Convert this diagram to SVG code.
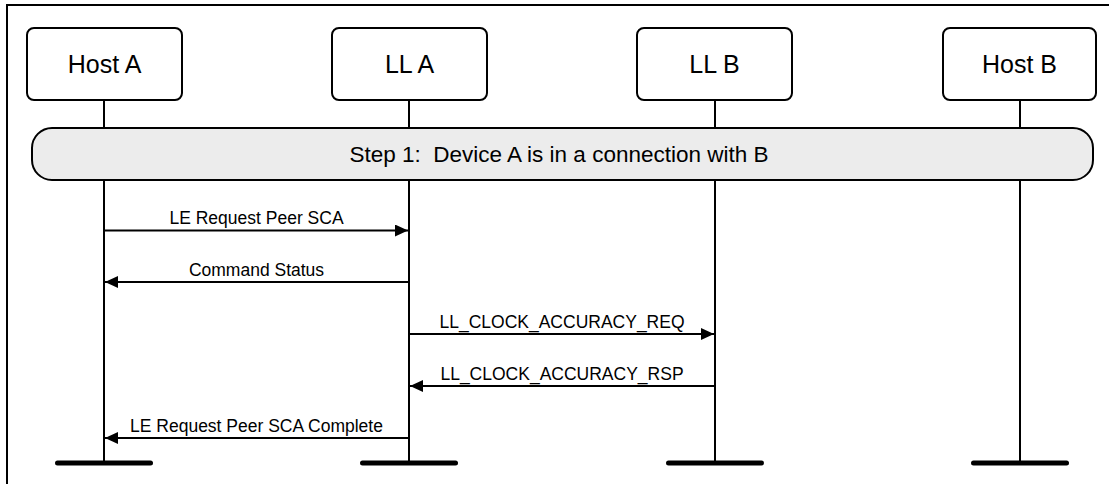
<svg xmlns="http://www.w3.org/2000/svg" width="1109" height="484" viewBox="0 0 1109 484">
<defs>
<style>
.box{fill:#fff;stroke:#000;stroke-width:2}
.life{stroke:#000;stroke-width:2}
.bar{stroke:#000;stroke-width:5;stroke-linecap:round}
.msg{stroke:#000;stroke-width:2;fill:none}
.lbl{font-family:"Liberation Sans",Arial,sans-serif;font-size:17.5px;fill:#000;text-anchor:middle}
.nt{font-family:"Liberation Sans",Arial,sans-serif;font-size:25px;fill:#000;text-anchor:middle}
.st{font-family:"Liberation Sans",Arial,sans-serif;font-size:22.5px;fill:#000;text-anchor:middle}
</style>
<marker id="ah" viewBox="0 0 13 12" refX="13" refY="6" markerWidth="13" markerHeight="12" markerUnits="userSpaceOnUse" orient="auto">
<path d="M0,0 L13,6 L0,12 Z" fill="#000"/>
</marker>
</defs>
<rect width="1109" height="484" fill="#fff"/>
<path d="M7,484 V5 H1109" fill="none" stroke="#000" stroke-width="2"/>
<g id="lifelines">
<line class="life" x1="104" y1="100" x2="104" y2="463"/>
<line class="life" x1="409" y1="100" x2="409" y2="463"/>
<line class="life" x1="715" y1="100" x2="715" y2="463"/>
<line class="life" x1="1020" y1="100" x2="1020" y2="463"/>
<line class="bar" x1="57.5" y1="463" x2="150.5" y2="463"/>
<line class="bar" x1="362.5" y1="463" x2="455.5" y2="463"/>
<line class="bar" x1="668.5" y1="463" x2="761.5" y2="463"/>
<line class="bar" x1="973.5" y1="463" x2="1066.5" y2="463"/>
</g>
<g id="host-a"><rect class="box" x="27" y="28" width="155" height="72" rx="7"/><text class="nt" x="104.5" y="72.5">Host A</text></g>
<g id="ll-a"><rect class="box" x="332" y="28" width="155" height="72" rx="7"/><text class="nt" x="409.5" y="72.5">LL A</text></g>
<g id="ll-b"><rect class="box" x="637" y="28" width="155" height="72" rx="7"/><text class="nt" x="714.5" y="72.5">LL B</text></g>
<g id="host-b"><rect class="box" x="943" y="28" width="153" height="72" rx="7"/><text class="nt" x="1019.5" y="72.5">Host B</text></g>
<g id="step1"><rect x="32" y="128" width="1061" height="52" rx="20" fill="#ececec" stroke="#000" stroke-width="2"/><text class="st" x="559" y="162" xml:space="preserve">Step 1:  Device A is in a connection with B</text></g>
<g id="connectors">
<line class="msg" x1="104" y1="230.5" x2="408" y2="230.5" marker-end="url(#ah)"/>
<text class="lbl" x="256.5" y="224">LE Request Peer SCA</text>
<line class="msg" x1="409" y1="282" x2="105" y2="282" marker-end="url(#ah)"/>
<text class="lbl" x="256.5" y="275.5">Command Status</text>
<line class="msg" x1="409" y1="334" x2="714" y2="334" marker-end="url(#ah)"/>
<text class="lbl" x="562" y="327.5">LL_CLOCK_ACCURACY_REQ</text>
<line class="msg" x1="715" y1="386" x2="410" y2="386" marker-end="url(#ah)"/>
<text class="lbl" x="562" y="379.5">LL_CLOCK_ACCURACY_RSP</text>
<line class="msg" x1="409" y1="438" x2="105" y2="438" marker-end="url(#ah)"/>
<text class="lbl" x="256.5" y="431.5">LE Request Peer SCA Complete</text>
</g>
</svg>
